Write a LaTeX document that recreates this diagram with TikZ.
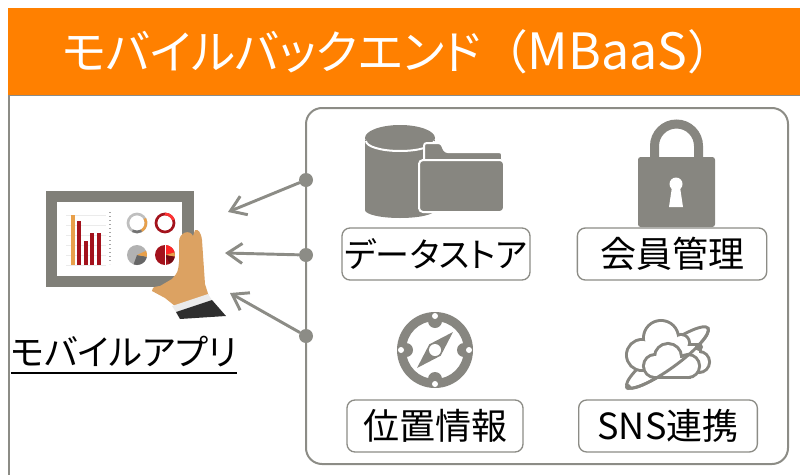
\documentclass[tikz,border=0pt]{standalone}
\usepackage{fontspec}
\setmainfont{Noto Sans CJK JP}[RawFeature=+palt]
\usetikzlibrary{positioning, arrows.meta}
\definecolor{mbaasorange}{HTML}{FF8000}
\definecolor{icongray}{HTML}{878680}
\definecolor{linegray}{HTML}{8C8C86}
\definecolor{tabletgray}{HTML}{807F78}
\definecolor{skin}{HTML}{DCA262}
\definecolor{chartred}{HTML}{A3121C}
\definecolor{chartorange}{HTML}{E8A04A}
\definecolor{sleeve}{HTML}{2E2E2E}
\newcommand{\widechar}[1]{{\addfontfeature{RawFeature=-palt}#1}}

\begin{document}
\begin{tikzpicture}[
    x=0.75pt, y=-0.75pt,
    font=\fontsize{27}{30}\selectfont,
    % Styles
    featurebox/.style={rectangle, draw=linegray, line width=1pt, rounded corners=6pt, minimum height=39pt, inner sep=0pt},
    linkdot/.style={circle, fill=linegray, minimum size=10.5pt, inner sep=0pt},
    linkarrow/.style={-{Straight Barb[length=11pt, width=15pt]}, line width=2.2pt, line cap=round, linegray},
    orbit/.style={icongray, line width=2.2pt, rotate around={36:(667.5,357.5)}},
    cloudedge/.style={icongray, line width=4.5pt}
]
\useasboundingbox (0,0) rectangle (800,475);
\clip (0,0) rectangle (800,475);

% ==================== HEADER ====================
\draw[linegray, line width=1.2pt] (9,95) rectangle (812,490);
\fill[mbaasorange] (8,8) rectangle (800,95);
\node[text=white, font=\fontsize{35}{40}\selectfont] (title) at (398,52) {モバイルバックエンド\widechar{（}{\fontsize{37.5}{40}\selectfont MBaaS}\widechar{）}};

% ==================== BACKEND SERVICES ====================
\draw[linegray, line width=1.5pt, rounded corners=12pt] (306,108) rectangle (788,464);

\node[featurebox, minimum width=141pt, font=\fontsize{25.5}{30}\selectfont] (store) at (436,254) {データストア};
\node[featurebox, minimum width=142pt] (member) at (672,254) {会員管理};
\node[featurebox, minimum width=132pt] (geo) at (435,426) {位置情報};
\node[featurebox, minimum width=134pt] (sns) at (668,426) {SNS連携};

% database + folder
\fill[icongray] (365,140) rectangle (435,210);
\fill[icongray] (400,210) ellipse (35 and 8);
\fill[icongray] (400,138) ellipse (35 and 13);
\draw[white, line width=1.5pt] (366,141) arc(180:0:34 and 10);
\fill[icongray, draw=white, line width=1.5pt, rounded corners=2pt] (424,212) -- (424,143) -- (441,143) -- (445,152) -- (502,152) -- (504,212) -- cycle;
\fill[icongray, draw=white, line width=1.5pt, rounded corners=3pt] (419,160) rectangle (504,212);

% lock
\draw[icongray, line width=6.75pt] (654.5,162) -- (654.5,146) arc(180:360:22) -- (698.5,162);
\fill[icongray, rounded corners=2pt] (638,157) rectangle (715,227);
\fill[white] (676,184) circle (6.5);
\fill[white] (672,187) -- (680,187) -- (683,207) -- (669,207) -- cycle;

% compass
\fill[icongray, even odd rule] (435,350) circle (38) (435,350) circle (29);
\foreach \a in {0,90,180,270}{
    \fill[icongray, shift={(435,350)}] (\a:29) circle (7);
    \fill[white, shift={(435,350)}] (\a:34) circle (3);
}
\fill[icongray] (453,332) -- (440.7,355.7) -- (417,368) -- (429.3,344.3) -- cycle;
\fill[white] (435,350) circle (6);

% clouds with orbit (thick stroke first, white fill on top leaves the outline)
\draw[orbit] (667.5,357.5) ellipse (50 and 11);
% back cloud
\foreach \cx/\cy/\r in {642/355/14, 661/338/16, 681/343/7, 699/362/9}{
    \draw[cloudedge] (\cx,\cy) circle (\r);
}
\draw[cloudedge] (642,346) rectangle (699,369);
\foreach \cx/\cy/\r in {642/355/14, 661/338/16, 681/343/7, 699/362/9}{
    \fill[white] (\cx,\cy) circle (\r);
}
\fill[white] (642,346) rectangle (699,369);
% front cloud
\foreach \cx/\cy/\r in {655/366/10, 668/357/12, 688/366/10}{
    \draw[cloudedge] (\cx,\cy) circle (\r);
}
\draw[cloudedge] (655,358) rectangle (688,376);
\foreach \cx/\cy/\r in {655/366/10, 668/357/12, 688/366/10}{
    \fill[white] (\cx,\cy) circle (\r);
}
\fill[white] (655,358) rectangle (688,376);
\begin{scope}
    \clip[rotate around={36:(667.5,357.5)}] (600,357.5) rectangle (735,385);
    \draw[orbit] (667.5,357.5) ellipse (50 and 11);
\end{scope}
\fill[icongray] (699,347) circle (4);
\fill[icongray] (628,387) circle (3);

% ==================== MOBILE APP ====================
\fill[tabletgray] (46,191) rectangle (194,287);
\fill[white] (57,202) rectangle (182,276);
\foreach \yy in {215,225,235,245,255,265}{
    \draw[black!8, line width=0.5pt] (66,\yy) -- (106,\yy);
}
\draw[black!35, line width=1pt, dotted] (110,212) -- (110,264);
\fill[chartorange] (71,215) rectangle (75,265);
\foreach \xx/\tp in {77/221, 84/241, 90/233, 97/233}{
    \fill[chartred] (\xx,\tp) rectangle (\xx+4,265);
}
% donut charts
\draw[black!25, line width=2pt] (137,223) circle (9);
\draw[chartorange, line width=2pt] (137,223) +(-30:9) arc(-30:60:9);
\draw[black!55, line width=2pt] (137,223) +(60:9) arc(60:120:9);
\draw[chartred, line width=2pt] (165,223) circle (9);
\draw[red!80, line width=2pt] (165,223) +(-90:9) arc(-90:-20:9);
% pie charts
\fill[black!30] (137,255) circle (10);
\fill[black!60] (137,255) -- +(10:10) arc(10:110:10) -- cycle;
\fill[chartorange] (137,255) -- +(-25:10) arc(-25:10:10) -- cycle;
\fill[chartred] (165,255) circle (10);
\fill[red!85] (165,255) -- +(-90:10) arc(-90:-15:10) -- cycle;
\fill[chartorange] (165,255) -- +(-15:10) arc(-15:10:10) -- cycle;
\fill[chartred!70!black] (165,255) -- +(10:10) arc(10:60:10) -- cycle;
\draw[white, line width=0.6pt] (165,245) -- (165,265);

% hand and sleeve
\fill[skin] (179,242) .. controls (179,232) and (190,229) .. (193,236) -- (195,230) .. controls (198,229) and (201,232) .. (202,240) -- (205,284) -- (210,300) -- (180,310) -- (165,298) -- (152,291) .. controls (153,287) .. (160,286) -- (172,279) .. controls (178,272) .. (179,262) -- cycle;
\fill[white!92!black] (172,306) -- (208,294) -- (212,300) -- (176,312) -- cycle;
\fill[sleeve] (176,312) -- (212,300) -- (226,316) -- (180,319) -- cycle;

\node[inner sep=0pt, font=\fontsize{26.5}{30}\selectfont] (app) at (124,352) {モバイルアプリ};
\draw[black, line width=1.5pt] ([yshift=-5pt]app.base west) -- ([yshift=-5pt]app.base east);

% ==================== LINKS ====================
\node[linkdot] (d1) at (306,180) {};
\node[linkdot] (d2) at (306,255) {};
\node[linkdot] (d3) at (306,336) {};
\coordinate (a1) at (228,212);
\coordinate (a2) at (225,253);
\coordinate (a3) at (230,293);

\draw[linkarrow] (d1) -- (a1);
\draw[linkarrow] (d2) -- (a2);
\draw[linkarrow] (d3) -- (a3);

\end{tikzpicture}
\end{document}
